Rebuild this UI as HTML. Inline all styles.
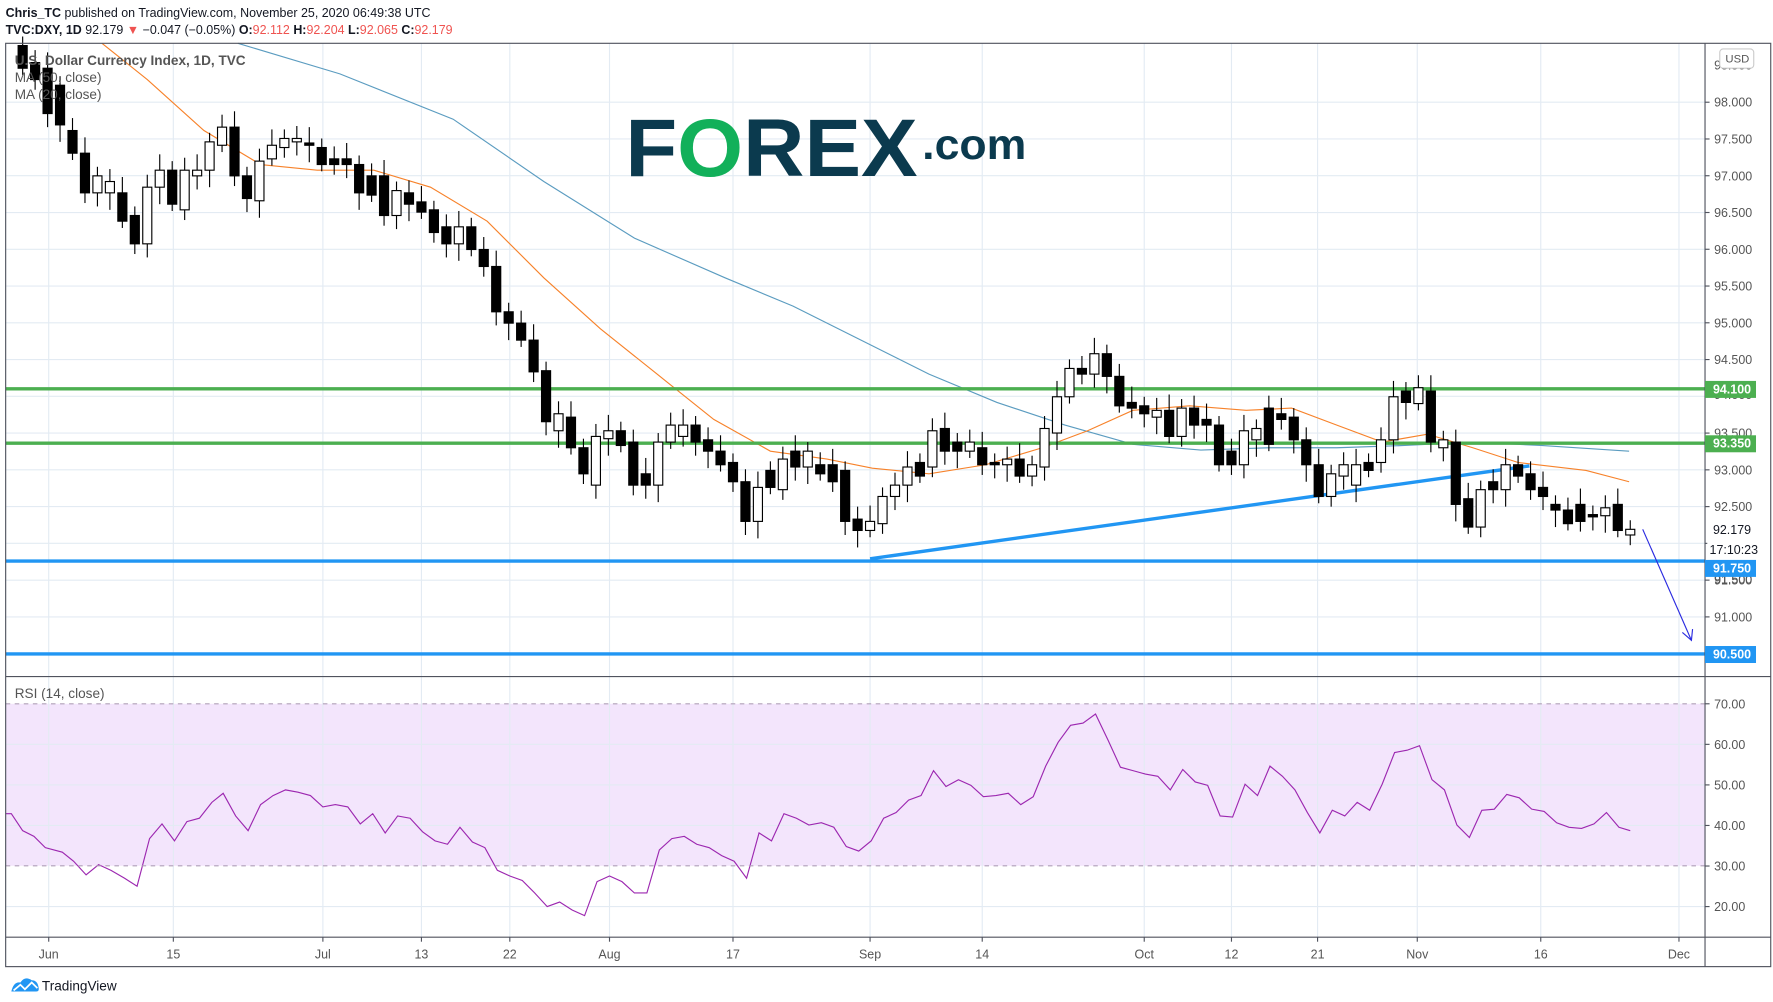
<!DOCTYPE html>
<html><head><meta charset="utf-8"><style>
html,body{margin:0;padding:0;background:#fff;}
svg{display:block;font-family:"Liberation Sans",sans-serif;}
</style></head><body>
<svg id="s" width="1773" height="1002" viewBox="0 0 1565 884" xmlns="http://www.w3.org/2000/svg">
<rect width="1565" height="884" fill="#fff"/>
<text x="5" y="15" font-size="11" fill="#131722"><tspan font-weight="bold">Chris_TC</tspan> published on TradingView.com, November 25, 2020 06:49:38 UTC</text>
<text x="5" y="30" font-size="11" fill="#131722"><tspan font-weight="bold">TVC:DXY, 1D</tspan> 92.179 <tspan fill="#ef5350">▼</tspan> −0.047 (−0.05%) <tspan font-weight="bold">O:</tspan><tspan fill="#ef5350">92.112</tspan> <tspan font-weight="bold">H:</tspan><tspan fill="#ef5350">92.204</tspan> <tspan font-weight="bold">L:</tspan><tspan fill="#ef5350">92.065</tspan> <tspan font-weight="bold">C:</tspan><tspan fill="#ef5350">92.179</tspan></text>
<rect x="5" y="621" width="1500" height="143" fill="#f3e5fc"/>
<g id="grid" stroke="#e3ebf3" stroke-width="1"></g>
<g id="main"></g>
<line x1="5" y1="621" x2="1505" y2="621" stroke="#b0a0b8" stroke-dasharray="4,4"/>
<line x1="5" y1="764" x2="1505" y2="764" stroke="#b0a0b8" stroke-dasharray="4,4"/>
<text x="13" y="57" font-size="12" fill="#555" font-weight="bold">U.S. Dollar Currency Index, 1D, TVC</text>
<text x="13" y="72" font-size="12" fill="#555">MA (50, close)</text>
<text x="13" y="87" font-size="12" fill="#555">MA (20, close)</text>
<text x="13" y="616" font-size="12" fill="#555">RSI (14, close)</text>
<g font-weight="bold" fill="#0b3a4e">
<text x="552" y="155" font-size="72" textLength="258" lengthAdjust="spacingAndGlyphs">F<tspan fill="#12b05a">O</tspan>REX</text>
<text x="814" y="140" font-size="38" textLength="92" lengthAdjust="spacingAndGlyphs">.com</text>
</g>
<rect x="5" y="38" width="1558" height="815" fill="none" stroke="#50535e" stroke-width="1"/>
<line x1="1505" y1="38" x2="1505" y2="853" stroke="#50535e"/>
<line x1="5" y1="597" x2="1563" y2="597" stroke="#50535e"/>
<line x1="5" y1="827" x2="1563" y2="827" stroke="#50535e"/>
<g id="axis" font-size="11" fill="#555"></g>
<rect x="1518" y="43" width="30" height="17" rx="3" fill="#fff" stroke="#ccc"/>
<text x="1523" y="55" font-size="10" fill="#555">USD</text>
<g font-size="11" font-weight="bold" fill="#fff">
<rect x="1505" y="336" width="45" height="15" fill="#4caf50"/><text x="1512" y="347">94.100</text>
<rect x="1505" y="384" width="45" height="15" fill="#4caf50"/><text x="1512" y="395">93.350</text>
<rect x="1505" y="494" width="45" height="15" fill="#2196f3"/><text x="1512" y="505">91.750</text>
<rect x="1505" y="570" width="45" height="15" fill="#2196f3"/><text x="1512" y="581">90.500</text>
</g>
<rect x="1507" y="459" width="50" height="32" fill="#fff"/>
<text x="1512" y="471" font-size="11" fill="#131722">92.179</text>
<text x="1509" y="489" font-size="11" fill="#131722">17:10:23</text>
<g transform="translate(10,862)"><path d="M0 13 Q2 4 8 5 Q12 -1 18 3 Q23 3 24 9 Q25 13 22 13 Z" fill="#2196f3"/><polyline points="2,12 8,7 12,11 18,5 23,10" fill="none" stroke="#fff" stroke-width="1.5"/></g>
<text x="37" y="874" font-size="12" fill="#131722">TradingView</text>
</svg>
<script>
const NS="http://www.w3.org/2000/svg";
function el(p,t,a,txt){const e=document.createElementNS(NS,t);for(const k in a)e.setAttribute(k,a[k]);if(txt!==undefined)e.textContent=txt;p.appendChild(e);return e;}
const g=document.getElementById('grid'),m=document.getElementById('main'),ax=document.getElementById('axis');
const py=p=>90+(98-p)*64.9;
const ry=v=>621+(70-v)*3.58;
const tl=[[43,'Jun'],[153,'15'],[285,'Jul'],[372,'13'],[450,'22'],[538,'Aug'],[647,'17'],[768,'Sep'],[867,'14'],[1010,'Oct'],[1087,'12'],[1163,'21'],[1251,'Nov'],[1360,'16'],[1482,'Dec']];
tl.forEach(([x,t])=>{el(g,'line',{x1:x,y1:38,x2:x,y2:827});el(ax,'line',{x1:x,y1:827,x2:x,y2:831,stroke:'#50535e'});el(ax,'text',{x:x,y:846,'text-anchor':'middle'},t);});
for(let p=91;p<=98.01;p+=0.5){const y=py(p);el(g,'line',{x1:5,y1:y,x2:1505,y2:y});el(ax,'line',{x1:1505,y1:y,x2:1509,y2:y,stroke:'#50535e'});
 if(Math.abs(p-94)>0.01&&Math.abs(p-93.5)>0.01&&Math.abs(p-92)>0.01)el(ax,'text',{x:1513,y:y+4},p.toFixed(3));}
el(ax,'text',{x:1513,y:352},'94.000');el(ax,'text',{x:1513,y:386},'93.500');
el(ax,'text',{x:1513,y:61},'98.500');el(ax,'text',{x:1513,y:515},'91.500');
[60,50,40,20].forEach(v=>el(g,'line',{x1:5,y1:ry(v),x2:1505,y2:ry(v)}));
[70,60,50,40,30,20].forEach(v=>{el(ax,'line',{x1:1505,y1:ry(v),x2:1509,y2:ry(v),stroke:'#50535e'});el(ax,'text',{x:1513,y:ry(v)+4},v.toFixed(2));});
el(m,'polyline',{points:"210,38 300,65 400,105 480,160 560,210 640,245 700,270 760,300 820,330 880,355 940,375 1000,392 1060,397 1120,395 1180,395 1240,393 1300,390 1360,393 1438,398",fill:'none',stroke:'#5b9cc0','stroke-width':1});
el(m,'polyline',{points:"90,38 130,70 180,115 230,145 280,150 330,150 380,165 430,195 480,245 530,290 580,330 630,370 680,398 730,405 770,413 820,418 870,410 920,395 960,380 1000,362 1050,358 1100,362 1140,360 1180,375 1220,390 1260,383 1300,395 1340,408 1400,415 1438,425",fill:'none',stroke:'#f7822a','stroke-width':1});
[[343,'#4caf50'],[391,'#4caf50'],[495,'#2196f3'],[577,'#2196f3']].forEach(([y,c])=>el(m,'line',{x1:5,y1:y,x2:1505,y2:y,stroke:c,'stroke-width':3}));
el(m,'line',{x1:768,y1:493,x2:1350,y2:411,stroke:'#2196f3','stroke-width':3});
el(m,'line',{x1:1450,y1:467,x2:1493,y2:565,stroke:'#2a2ae0','stroke-width':1});
el(m,'polyline',{points:"1485,558 1493,565 1494,555",fill:'none',stroke:'#2a2ae0','stroke-width':1});
const c=[[40,60,0],[55,70,0],[60,100,0],[75,110,0],[115,135,0],[135,170,0],[155,170,1],[160,170,1],[170,195,0],[190,215,0],[165,215,1],[150,165,1],[150,180,0],[150,185,1],[150,155,1],[125,150,1],[112,128,1],[112,155,0],[155,175,0],[142,177,1],[128,140,1],[122,130,1],[122,125,1],[126,128,0],[130,145,0],[140,145,0],[140,145,0],[145,170,0],[155,172,0],[155,190,0],[168,190,1],[170,180,0],[178,187,0],[185,205,0],[200,215,0],[200,215,1],[200,220,0],[220,235,0],[235,275,0],[275,285,0],[285,300,0],[300,328,0],[327,372,0],[365,380,1],[368,395,0],[395,418,0],[385,428,1],[380,387,1],[380,393,0],[390,428,0],[418,428,0],[390,428,1],[375,390,1],[375,385,1],[375,390,0],[388,398,0],[398,410,0],[408,425,0],[425,460,0],[430,460,1],[415,430,0],[405,432,1],[398,412,0],[398,412,1],[410,418,0],[410,425,0],[415,460,0],[458,468,0],[460,468,1],[438,462,1],[428,438,1],[412,428,1],[408,420,0],[380,412,1],[378,398,0],[390,398,0],[390,398,1],[395,410,0],[408,410,0],[405,410,1],[405,420,0],[410,420,1],[378,412,1],[350,382,1],[325,350,1],[325,330,0],[312,330,1],[312,332,0],[332,358,0],[355,360,0],[358,365,0],[362,368,1],[362,385,0],[360,385,1],[360,375,0],[370,375,0],[375,410,0],[398,410,0],[380,410,1],[378,388,1],[360,392,0],[365,370,0],[368,388,0],[388,410,0],[410,438,0],[418,438,1],[410,420,1],[410,428,1],[408,415,0],[388,408,1],[350,388,1],[345,355,0],[342,356,1],[345,390,0],[388,395,1],[390,445,0],[440,465,0],[432,465,1],[425,432,0],[410,432,1],[410,420,0],[418,432,0],[430,438,0],[445,450,0],[450,462,0],[445,460,0],[454,456,0],[448,455,1],[445,468,0],[467,472,1]];
c.forEach(([t,b,w],i)=>{const x=20+i*11;const h=Math.max(2,b-t);
 el(m,'line',{x1:x,y1:t-8-(i%3)*3,x2:x,y2:b+6+(i%4)*3,stroke:'#000','stroke-width':1});
 el(m,'rect',{x:x-4,y:t,width:8,height:h,fill:w?'#fff':'#000',stroke:'#000','stroke-width':1});});
const r=[[5,718],[10,718],[20,733],[30,738],[40,748],[55,752],[65,760],[76,772],[87,763],[98,768],[110,775],[121,782],[132,740],[143,727],[154,742],[165,725],[176,722],[187,708],[197,700],[208,720],[219,733],[230,710],[241,702],[252,697],[263,699],[274,702],[285,712],[296,710],[307,712],[318,727],[329,718],[340,735],[351,720],[362,722],[373,734],[384,742],[395,745],[406,730],[417,743],[428,748],[439,768],[450,773],[461,777],[472,788],[483,800],[494,796],[505,803],[516,808],[527,778],[538,773],[549,778],[560,788],[571,788],[582,750],[593,740],[604,738],[615,745],[626,748],[637,755],[648,760],[659,775],[670,735],[681,742],[692,718],[703,722],[714,728],[725,726],[736,730],[747,747],[758,751],[769,742],[780,722],[791,717],[802,706],[813,702],[824,680],[835,694],[846,688],[857,693],[868,703],[879,702],[890,700],[901,710],[912,703],[923,676],[934,655],[945,640],[956,638],[967,630],[978,653],[989,677],[1000,680],[1011,683],[1022,685],[1033,697],[1044,679],[1055,690],[1066,693],[1077,720],[1088,721],[1099,692],[1110,702],[1121,676],[1132,685],[1143,697],[1154,717],[1165,735],[1176,715],[1187,720],[1198,708],[1209,715],[1220,692],[1231,664],[1242,662],[1253,658],[1264,688],[1275,697],[1286,728],[1297,739],[1308,715],[1319,714],[1330,701],[1341,704],[1352,714],[1363,716],[1374,726],[1385,730],[1396,731],[1407,727],[1418,717],[1429,730],[1439,733]];
el(m,'polyline',{points:r.map(p=>p.join(',')).join(' '),fill:'none',stroke:'#9c27b0','stroke-width':1});
</script>
</body></html>
